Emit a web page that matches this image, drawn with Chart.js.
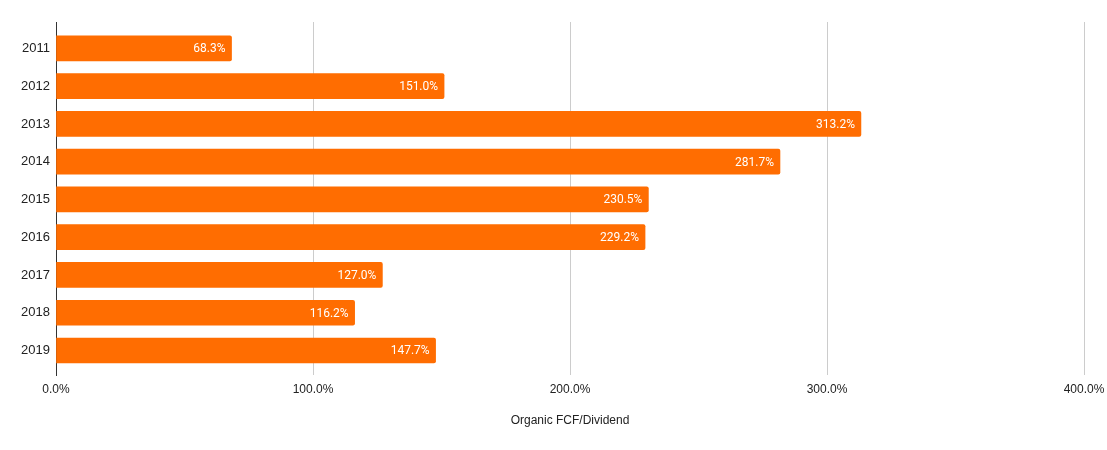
<!DOCTYPE html>
<html>
<head>
<meta charset="utf-8">
<script src="https://cdn.jsdelivr.net/npm/chart.js@4/dist/chart.umd.min.js"></script>
<style>
  html, body { margin: 0; padding: 0; background: #ffffff; }
  #wrap { width: 1107px; height: 450px; position: relative; }
</style>
</head>
<body>
<div id="wrap"><canvas id="c"></canvas></div>
<script>
const categories = ['2011', '2012', '2013', '2014', '2015', '2016', '2017', '2018', '2019'];
const ratioValues = [68.3, 151.0, 313.2, 281.7, 230.5, 229.2, 127.0, 116.2, 147.7];
const xTickValues = [0, 100, 200, 300, 400];
const axisTitle = 'Organic FCF/Dividend';

const barColor = '#ff6d01';

const valueLabels = {
  id: 'valueLabels',
  afterDatasetsDraw(chart) {
    const ctx = chart.ctx;
    const meta = chart.getDatasetMeta(0);
    ctx.save();
    ctx.font = '12px Roboto';
    ctx.fillStyle = '#ffffff';
    ctx.textAlign = 'right';
    ctx.textBaseline = 'middle';
    meta.data.forEach((bar, i) => {
      ctx.fillText(ratioValues[i].toFixed(1) + '%', bar.x - 6, bar.y + 1);
    });
    ctx.restore();
  }
};

new Chart(document.getElementById('c'), {
  type: 'bar',
  data: {
    datasets: [{
      label: axisTitle,
      data: ratioValues.map((v, i) => ({ x: v, y: i })),
      backgroundColor: barColor,
      borderWidth: 0,
      borderRadius: 2,
      barThickness: 25
    }]
  },
  options: {
    indexAxis: 'y',
    responsive: true,
    maintainAspectRatio: false,
    animation: false,
    layout: { padding: { top: 22, right: 23, left: 0, bottom: 0 } },
    plugins: {
      legend: { display: false },
      tooltip: { enabled: false }
    },
    scales: {
      x: {
        type: 'linear',
        min: 0,
        max: 400,
        afterBuildTicks(scale) { scale.ticks = xTickValues.map(v => ({ value: v })); },
        afterFit(scale) { scale.height = 75; scale.paddingRight = 0; scale.paddingLeft = 0; },
        grid: { color: '#cccccc', lineWidth: 1, drawTicks: false },
        border: { display: false },
        ticks: {
          padding: 7,
          color: '#222222',
          font: { family: 'Arial, "Liberation Sans"', size: 12 },
          maxRotation: 0,
          callback: v => Number(v).toFixed(1) + '%'
        },
        title: {
          display: true,
          text: axisTitle,
          color: '#222222',
          font: { family: 'Arial, "Liberation Sans"', size: 12 },
          padding: { top: 4, bottom: 22 }
        }
      },
      y: {
        type: 'linear',
        reverse: true,
        offset: false,
        min: -0.7,
        max: 8.65,
        afterBuildTicks(scale) { scale.ticks = categories.map((c, i) => ({ value: i })); },
        afterFit(scale) { scale.width = 56; },
        grid: { display: false, drawTicks: false, offset: false },
        border: { display: true, color: '#333333', width: 1 },
        ticks: {
          padding: 6,
          color: '#222222',
          font: { family: 'Arial, "Liberation Sans"', size: 13 },
          callback: v => categories[v]
        }
      }
    }
  },
  plugins: [valueLabels]
});
</script>
</body>
</html>
